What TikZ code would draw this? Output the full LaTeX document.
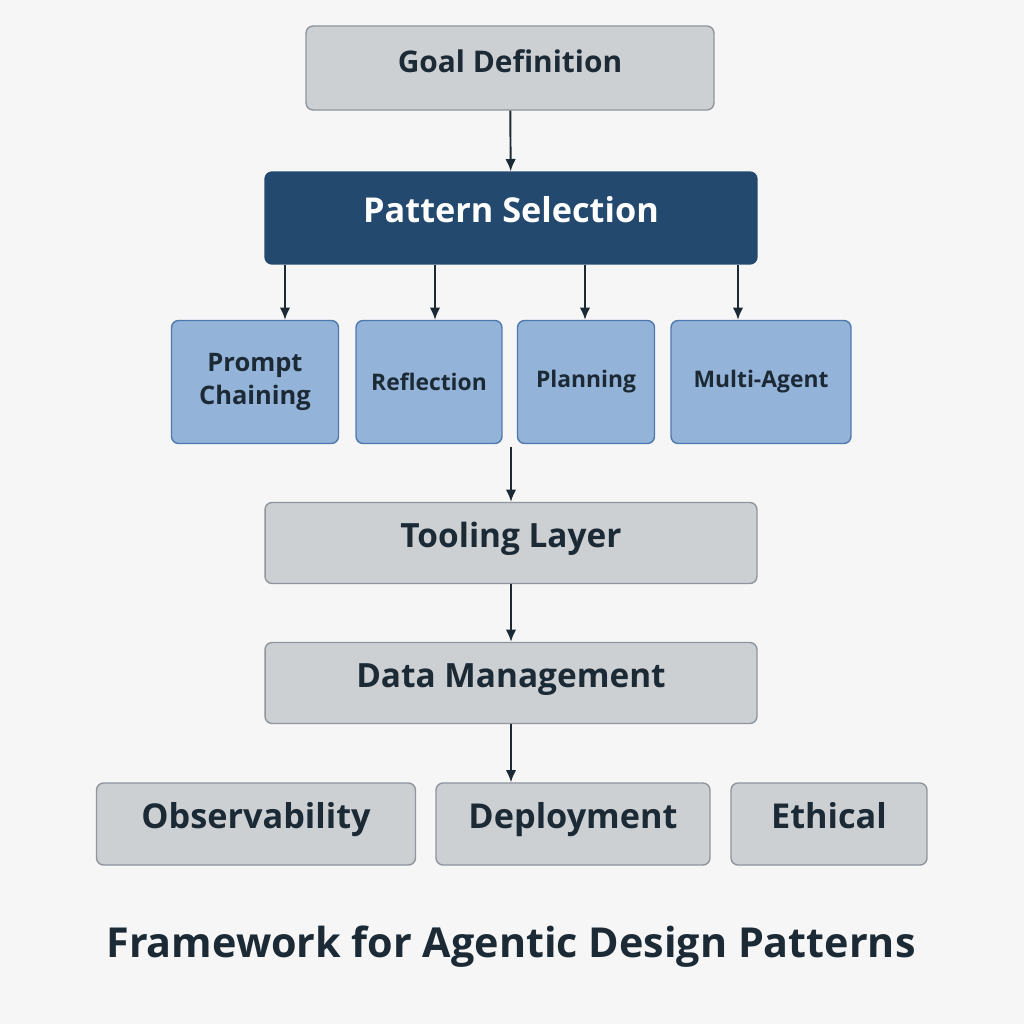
\documentclass[tikz,border=0pt]{standalone}
\usepackage{fontspec}
\setmainfont{Open Sans}
\definecolor{boxgray}{HTML}{CDD0D3}
\definecolor{boxedge}{HTML}{8E959C}
\definecolor{navy}{HTML}{234A6E}
\definecolor{lightblue}{HTML}{94B3D9}
\definecolor{blueedge}{HTML}{4F79AE}
\definecolor{ink}{HTML}{1C2A36}
\definecolor{bg}{HTML}{F6F6F6}
\tikzset{
  graybox/.style={draw=boxedge,fill=boxgray,rounded corners=4pt,line width=0.8pt,text=ink,inner sep=0pt,text height=0.72em,text depth=0.22em},
  bluebox/.style={draw=blueedge,fill=lightblue,rounded corners=4pt,line width=0.8pt,text=ink,inner sep=0pt,align=center,font=\fontsize{14.5}{19}\selectfont\bfseries},
  arr/.style={-{Latex[length=7pt,width=6pt]},line width=1.1pt,draw=ink}
}
\usetikzlibrary{arrows.meta}
\begin{document}
\begin{tikzpicture}[x=0.02cm,y=-0.02cm]
\fill[bg] (0,0) rectangle (1024,1024);
\useasboundingbox (0,0) rectangle (1024,1024);

\node[graybox,minimum width=8.16cm,minimum height=1.68cm,font=\fontsize{17}{20}\selectfont\bfseries] (goal) at (510,68) {Goal Definition};
\node[graybox,fill=navy,draw=navy,text=white,minimum width=9.84cm,minimum height=1.84cm,font=\fontsize{19.5}{24}\selectfont\bfseries] (sel) at (511,218) {Pattern Selection};

\node[bluebox,minimum width=3.34cm,minimum height=2.46cm] (chain) at (255,382) {Prompt\\Chaining};
\node[bluebox,minimum width=2.92cm,minimum height=2.46cm,font=\fontsize{13}{16}\selectfont\bfseries] (refl) at (429,382) {Reflection};
\node[bluebox,minimum width=2.74cm,minimum height=2.46cm,font=\fontsize{13}{16}\selectfont\bfseries] (plan) at (586,382) {Planning};
\node[bluebox,minimum width=3.60cm,minimum height=2.46cm,font=\fontsize{13}{16}\selectfont\bfseries] (multi) at (761,382) {Multi-Agent};

\node[graybox,minimum width=9.84cm,minimum height=1.62cm,font=\fontsize{19}{23}\selectfont\bfseries] (tool) at (511,543) {Tooling Layer};
\node[graybox,minimum width=9.84cm,minimum height=1.62cm,font=\fontsize{19}{23}\selectfont\bfseries] (data) at (511,683) {Data Management};

\node[graybox,minimum width=6.38cm,minimum height=1.64cm,font=\fontsize{19.5}{24}\selectfont\bfseries] (obs) at (256,824) {Observability};
\node[graybox,minimum width=5.48cm,minimum height=1.64cm,font=\fontsize{19.5}{24}\selectfont\bfseries] (dep) at (573,824) {Deployment};
\node[graybox,minimum width=3.92cm,minimum height=1.64cm,font=\fontsize{19.5}{24}\selectfont\bfseries] (eth) at (829,824) {Ethical};

\node[text=ink,font=\fontsize{23.5}{28}\selectfont\bfseries] (title) at (511,947) {Framework for Agentic Design Patterns};

% connectors
\draw[arr] (goal) -- (sel);
\foreach \n/\x in {chain/285, refl/435, plan/585, multi/738}
{
\draw[arr] (sel.south -| \x,0) -- (\n.north -| \x,0);
}
\coordinate (split) at (511,447);
\draw[arr] (split) -- (tool);
\draw[arr] (tool) -- (data);
\draw[arr] (data.south) -- (dep.north -| data.south);

\end{tikzpicture}
\end{document}
